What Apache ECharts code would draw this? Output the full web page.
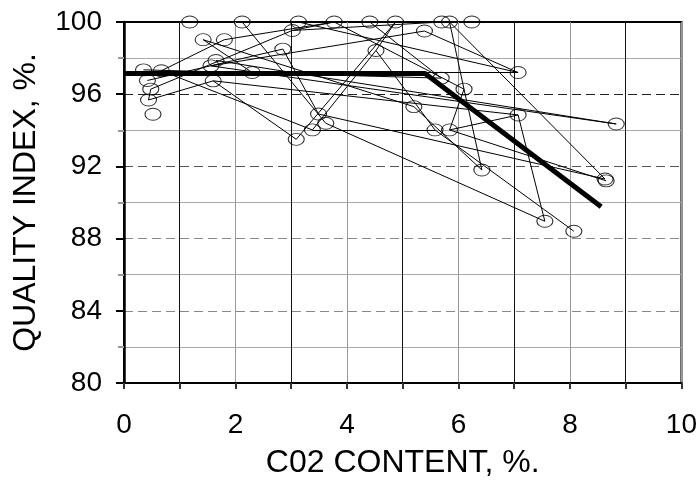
<!DOCTYPE html>
<html>
<head>
<meta charset="utf-8">
<script src="https://cdn.jsdelivr.net/npm/echarts@6/dist/echarts.min.js"></script>
<style>
  html, body { margin: 0; padding: 0; background: #fff; }
  #chart { width: 700px; height: 484px; }
</style>
</head>
<body>
<div id="chart"></div>
<script>
// measured points (C02 %, quality %)
const co2 = [0.35, 0.67, 0.42, 0.48, 0.44, 0.52, 1.18, 1.42, 1.80, 1.65, 1.56, 1.60, 2.12, 2.30,
  2.85, 3.02, 3.13, 3.09, 3.38, 3.49, 3.62, 3.77, 4.41, 4.52, 4.87, 5.39, 5.20, 5.58, 5.70, 5.84,
  5.69, 5.84, 6.10, 6.24, 6.42, 7.07, 7.07, 8.83, 8.63, 8.65, 7.55, 8.07];
const quality = [97.35, 97.3, 96.76, 96.28, 95.68, 94.89, 100, 99.02, 99.02, 97.87, 97.57, 96.74, 100, 97.2,
  98.5, 99.53, 100, 93.5, 94.02, 94.9, 94.39, 100, 100, 98.42, 100, 99.5, 95.31, 94.02, 100, 100,
  96.89, 94.02, 96.28, 100, 91.8, 97.2, 94.85, 94.35, 91.3, 91.2, 88.96, 88.41];

// which points are joined by thin lines (index pairs)
const links = [[1, 8], [2, 14], [3, 15], [4, 11], [3, 4], [1, 18], [11, 17], [11, 36], [7, 13], [7, 26],
  [8, 21], [10, 25], [9, 37], [10, 37], [12, 20], [13, 35], [14, 19], [15, 28], [16, 35], [21, 32],
  [22, 30], [24, 17], [23, 18], [24, 23], [23, 27], [25, 35], [18, 27], [19, 38], [20, 40], [26, 34],
  [27, 41], [29, 32], [32, 34], [32, 31], [29, 38], [36, 31], [36, 40], [31, 39], [0, 30], [15, 21]];

// thick trend line
const trendX = [0, 5.4, 8.56];
const trendY = [97.15, 97.15, 89.76];

const xTicks = [0, 2, 4, 6, 8, 10];
const yTicks = [80, 84, 88, 92, 96, 100];

const font = "'Liberation Sans', Arial, sans-serif";

const chart = echarts.init(document.getElementById('chart'), null, { renderer: 'canvas' });

const points = co2.map((x, i) => [x, quality[i]]);
const segs = links.map(l => ({ coords: [points[l[0]], points[l[1]]] }));

chart.setOption({
  backgroundColor: '#fff',
  animation: false,
  grid: {
    left: 124, right: 16, top: 22, bottom: 101,
    show: true, borderColor: '#000', borderWidth: 2
  },
  xAxis: {
    type: 'value',
    min: xTicks[0],
    max: xTicks[xTicks.length - 1],
    interval: 1,
    name: 'C02 CONTENT, %.',
    nameLocation: 'middle',
    nameGap: 64,
    nameTextStyle: { fontFamily: font, fontSize: 32, color: '#000' },
    axisLine: { lineStyle: { color: '#000', width: 2 } },
    axisTick: { show: true, length: 6, lineStyle: { color: '#333', width: 2 } },
    axisLabel: {
      fontFamily: font, fontSize: 28, color: '#000', margin: 28,
      formatter: v => (xTicks.indexOf(v) >= 0 ? String(v) : '')
    },
    splitLine: { show: true, lineStyle: { color: ['#999', '#111'], width: 1 } }
  },
  yAxis: {
    type: 'value',
    min: yTicks[0],
    max: yTicks[yTicks.length - 1],
    interval: 4,
    name: 'QUALITY INDEX, %.',
    nameLocation: 'middle',
    nameGap: 82,
    nameTextStyle: { fontFamily: font, fontSize: 32, color: '#000' },
    axisLine: { lineStyle: { color: '#000', width: 2.5 } },
    axisTick: { show: true, length: 8, lineStyle: { color: '#000', width: 2 } },
    minorTick: { show: true, splitNumber: 2, length: 6, lineStyle: { color: '#999', width: 2 } },
    axisLabel: { fontFamily: font, fontSize: 28, color: '#000', margin: 22 },
    splitLine: {
      show: true,
      lineStyle: { color: ['#000', '#888', '#888', '#555', '#222', '#000'], width: 1.2, type: [9, 5] }
    },
    minorSplitLine: { show: true, lineStyle: { color: '#aaa', width: 1.2 } }
  },
  series: [
    {
      type: 'lines',
      coordinateSystem: 'cartesian2d',
      data: segs,
      symbol: 'none',
      lineStyle: { color: '#000', width: 1, opacity: 1 },
      z: 3
    },
    {
      type: 'scatter',
      data: points,
      symbol: 'circle',
      symbolSize: [16, 12],
      clip: false,
      itemStyle: { color: 'rgba(0,0,0,0)', borderColor: '#000', borderWidth: 1 },
      z: 4
    },
    {
      type: 'line',
      data: trendX.map((x, i) => [x, trendY[i]]),
      showSymbol: false,
      lineStyle: { color: '#000', width: 5 },
      z: 5
    }
  ]
});
</script>
</body>
</html>
